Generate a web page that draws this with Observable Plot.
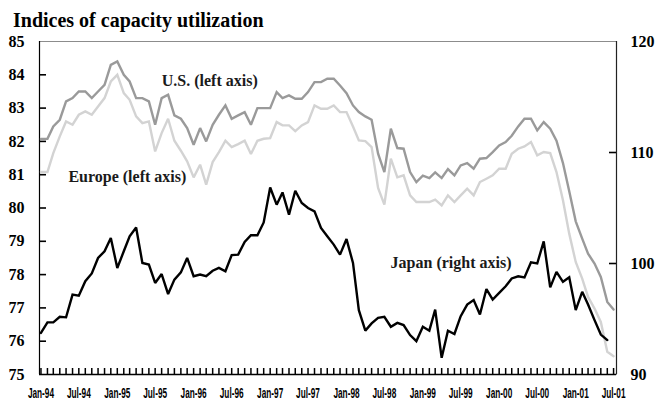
<!DOCTYPE html>
<html><head><meta charset="utf-8">
<script src="https://cdn.jsdelivr.net/npm/d3@7"></script>
<script src="https://cdn.jsdelivr.net/npm/@observablehq/plot@0.6"></script>
<style>
body{margin:0;background:#fff;}
#wrap{position:relative;width:667px;height:400px;overflow:hidden;}
#title{position:absolute;left:13px;top:9px;line-height:20px;font:bold 20px "Liberation Serif","Times New Roman",serif;color:#000;white-space:nowrap;}
</style></head><body>
<div id="wrap"><div id="chart"></div><div id="title">Indices of capacity utilization</div></div>
<script>
// Monthly data, Jan-94 .. Jul-01
const startYear = 1994;
const us = [82.07,82.08,82.45,82.65,83.2,83.3,83.5,83.5,83.3,83.5,
83.7,84.3,84.4,84.0,83.8,83.3,83.3,83.2,82.5,83.3,
83.4,82.78,82.68,82.4,81.9,82.4,82.0,82.5,82.8,83.08,
82.68,82.78,82.88,82.5,83.0,83.0,83.0,83.48,83.3,83.38,
83.28,83.28,83.48,83.78,83.78,83.88,83.88,83.68,83.45,83.08,
82.88,82.75,82.65,81.63,81.08,82.38,81.8,81.78,81.08,80.78,
80.97,80.9,81.07,80.9,81.17,80.98,81.28,81.35,81.18,81.48,
81.5,81.68,81.88,81.98,82.17,82.45,82.68,82.68,82.33,82.58,
82.38,82.02,81.35,80.5,79.6,79.08,78.63,78.33,77.93,77.18,76.95];
const europe = [81.08,81.08,81.65,82.15,82.6,82.5,82.8,82.9,82.8,83.05,
83.3,83.8,84.0,83.45,83.25,82.75,82.55,82.6,81.7,82.25,
82.68,82.02,81.72,81.4,80.92,81.3,80.7,81.38,81.68,82.02,
81.83,81.92,82.02,81.62,82.02,82.08,82.1,82.58,82.48,82.48,
82.31,82.48,82.58,83.08,82.98,82.98,83.08,82.88,82.88,82.45,
82.03,82.01,81.83,80.6,80.1,81.48,80.92,80.98,80.38,80.18,
80.18,80.18,80.25,80.08,80.38,80.18,80.38,80.58,80.38,80.78,
80.88,80.98,81.18,81.18,81.63,81.78,81.85,81.98,81.58,81.68,
81.65,81.08,80.23,79.23,78.38,77.88,77.33,76.98,76.58,75.68,75.55];
const japan = [93.75,94.7,94.7,95.2,95.15,97.2,97.1,98.4,99.1,100.5,
101.1,102.3,99.6,101.1,102.45,103.25,100.05,99.9,98.25,99.05,
97.25,98.55,99.2,100.5,98.85,99.0,98.85,99.35,99.6,99.3,
100.75,100.8,101.95,102.55,102.55,103.7,106.85,105.3,106.4,104.4,
106.55,105.45,105.0,104.7,103.2,102.45,101.7,100.8,102.2,100.05,
95.8,93.95,94.6,95.1,95.2,94.3,94.65,94.45,93.55,93.0,
94.3,93.95,95.85,91.5,93.95,93.65,95.25,96.3,96.7,95.4,
97.7,96.75,97.35,97.95,98.65,98.85,98.75,100.1,100.0,102.0,
97.85,99.25,98.35,98.75,95.8,97.45,96.3,94.9,93.6,93.1];

const leftTicks = [75,76,77,78,79,80,81,82,83,84,85];
const rightTicks = [90,100,110,120];
const leftDomain = [75,85];
const rightDomain = [90,120];
const xTickEveryMonths = 6;

const seriesNames = ["Europe","U.S.","Japan"];
const seriesColors = ["#d3d3d3","#9a9a9a","#000000"];

const labelTexts = ["U.S. (left axis)","Europe (left axis)","Japan (right axis)"];
const labelDates = ["1996-03-18","1995-02-18","1999-05-16"];
const labelValues = [83.83, 80.92, 100.1];   // Japan label in right-axis units
const labelAxis = ["left","left","right"];

// ---- build
const W = 667, H = 400, mT = 41, mB = 26, mL = 39, mR = 51;
const plotW = W - mL - mR, plotH = H - mT - mB;
const monthDate = i => new Date(Date.UTC(startYear, i, 1));
const toLeft = d3.scaleLinear().domain(rightDomain).range(leftDomain);
const rows = [];
europe.forEach((v,i)=>rows.push({s:"Europe", date:monthDate(i), v}));
us.forEach((v,i)=>rows.push({s:"U.S.", date:monthDate(i), v}));
japan.forEach((v,i)=>rows.push({s:"Japan", date:monthDate(i), v:toLeft(v)}));

const xDomain = [new Date(Date.UTC(1993,11,25)), new Date(Date.UTC(2001,6,15))];
const labels = labelTexts.map((t,k)=>({t, date:new Date(labelDates[k]+"T00:00:00Z"),
  v: labelAxis[k]==="right" ? toLeft(labelValues[k]) : labelValues[k]}));
const monthTicks = d3.utcMonth.range(monthDate(0), monthDate(us.length));
const labelTicks = monthTicks.filter((d,i)=>i % xTickEveryMonths === 0);
const innerLeft = leftTicks.slice(1,-1);
const innerRight = rightTicks.slice(1,-1).map(d=>toLeft(d));

const serif = '"Liberation Serif","Times New Roman",serif';

const chart = Plot.plot({
  width: W, height: H,
  marginTop: mT, marginBottom: mB, marginLeft: mL, marginRight: mR,
  style: {fontFamily: serif, fontWeight: "bold", fontSize: "16px", background: "#fff", color: "#000"},
  x: {type: "utc", domain: xDomain, label: null},
  y: {domain: leftDomain, label: null},
  color: {domain: seriesNames, range: seriesColors},
  marks: [
    Plot.frame({stroke: "#8c8c8c", strokeWidth: 1}),
    Plot.ruleX([xDomain[0]], {stroke: "#000", strokeWidth: 1.2}),
    Plot.ruleX([xDomain[1]], {stroke: "#222", strokeWidth: 1.2}),
    Plot.ruleY([leftDomain[0]], {stroke: "#000", strokeWidth: 1.6}),
    // inward tick marks
    Plot.tickY(innerLeft, {y: d => d, stroke: "#000", strokeWidth: 1.6, insetRight: plotW - 7}),
    Plot.tickY(innerRight, {y: d => d, stroke: "#000", strokeWidth: 1.6, insetLeft: plotW - 7}),
    Plot.tickX(monthTicks, {x: d => d, stroke: "#000", strokeWidth: 1.5, insetTop: plotH - 6}),
    // left axis labels
    Plot.axisY(leftTicks, {anchor: "left", tickSize: 0, tickPadding: 15, fontSize: 16, fontFamily: serif, fontWeight: "bold", label: null}),
    // right axis labels
    Plot.axisY(rightTicks.map(d=>toLeft(d)), {anchor: "right", tickSize: 0, tickPadding: 14, fontSize: 16, fontFamily: serif, fontWeight: "bold", label: null,
      tickFormat: d => String(Math.round(toLeft.invert(d)))}),
    // bottom axis labels
    Plot.axisX(labelTicks, {anchor: "bottom", tickSize: 0, tickPadding: 14, tickFormat: d3.utcFormat("%b-%y"),
      fontSize: 14, fontFamily: '"Liberation Sans",Arial,sans-serif', fontWeight: "bold", label: null}),
    // series
    Plot.line(rows, {x: "date", y: "v", z: "s", stroke: "s", strokeWidth: 2.4, strokeLinejoin: "miter", strokeMiterlimit: 2}),
    Plot.text(labels, {x: "date", y: "v", text: "t", fontSize: 16, fontFamily: serif, fontWeight: "bold", fill: "#1a1a1a"})
  ]
});
document.getElementById("chart").append(chart);
// condense the month labels like the original
d3.select(chart).selectAll('g[aria-label="x-axis tick label"] text').each(function(){
  const t = this.getAttribute("transform") || "";
  this.setAttribute("transform", t + " scale(0.59,1)");
});
</script>
</body></html>
